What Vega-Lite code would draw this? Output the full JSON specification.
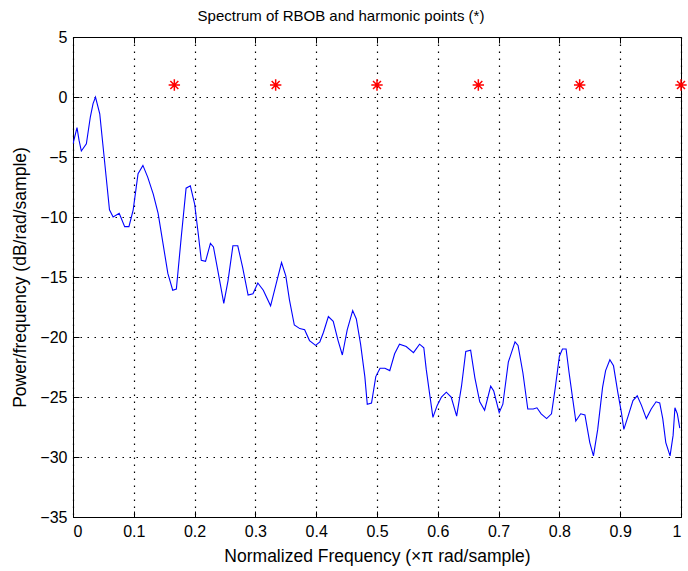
{
  "$schema": "https://vega.github.io/schema/vega-lite/v6.json",
  "width": 608,
  "height": 480,
  "autosize": "none",
  "padding": {"left": 73, "top": 37, "right": 7, "bottom": 54},
  "background": "white",
  "title": {"text": "Spectrum of RBOB and harmonic points (*)", "font": "Liberation Sans", "fontSize": 15, "fontWeight": "normal", "color": "black", "offset": 5, "dx": -36},
  "config": {
    "view": {"stroke": "black", "strokeWidth": 1},
    "axis": {
      "labelFont": "Liberation Sans", "labelFontSize": 16, "labelColor": "black",
      "titleFont": "Liberation Sans", "titleFontSize": 17.5, "titleFontWeight": "normal", "titleColor": "black",
      "domainColor": "black", "tickColor": "black", "tickSize": -6,
      "gridColor": "black", "gridOpacity": 1, "gridDash": [1.5, 5.5], "gridWidth": 1.2
    }
  },
  "datasets": {
    "spectrum": [
      {"f": 0.0, "p": -3.9}, {"f": 0.0066, "p": -2.55}, {"f": 0.0099, "p": -3.6}, {"f": 0.0137, "p": -4.5},
      {"f": 0.022, "p": -3.9}, {"f": 0.0285, "p": -1.67}, {"f": 0.033, "p": -0.55}, {"f": 0.037, "p": 0.0},
      {"f": 0.044, "p": -1.4}, {"f": 0.049, "p": -3.9}, {"f": 0.055, "p": -6.9}, {"f": 0.06, "p": -9.4},
      {"f": 0.066, "p": -10.0}, {"f": 0.076, "p": -9.7}, {"f": 0.085, "p": -10.8}, {"f": 0.092, "p": -10.8},
      {"f": 0.099, "p": -9.4}, {"f": 0.107, "p": -6.4}, {"f": 0.115, "p": -5.7}, {"f": 0.123, "p": -6.7},
      {"f": 0.132, "p": -8.1}, {"f": 0.14, "p": -9.7}, {"f": 0.148, "p": -12.2}, {"f": 0.156, "p": -14.7},
      {"f": 0.164, "p": -16.1}, {"f": 0.17, "p": -16.0}, {"f": 0.178, "p": -11.7}, {"f": 0.186, "p": -7.6},
      {"f": 0.193, "p": -7.4}, {"f": 0.2, "p": -8.9}, {"f": 0.206, "p": -11.4}, {"f": 0.211, "p": -13.6},
      {"f": 0.218, "p": -13.7}, {"f": 0.226, "p": -12.2}, {"f": 0.231, "p": -12.5}, {"f": 0.238, "p": -14.4},
      {"f": 0.248, "p": -17.2}, {"f": 0.255, "p": -15.3}, {"f": 0.263, "p": -12.4}, {"f": 0.271, "p": -12.4},
      {"f": 0.279, "p": -14.2}, {"f": 0.288, "p": -16.5}, {"f": 0.296, "p": -16.4}, {"f": 0.304, "p": -15.5},
      {"f": 0.313, "p": -16.1}, {"f": 0.325, "p": -17.4}, {"f": 0.334, "p": -15.6}, {"f": 0.343, "p": -13.8},
      {"f": 0.35, "p": -14.9}, {"f": 0.356, "p": -16.9}, {"f": 0.364, "p": -19.0}, {"f": 0.373, "p": -19.3},
      {"f": 0.381, "p": -19.4}, {"f": 0.389, "p": -20.3}, {"f": 0.399, "p": -20.7}, {"f": 0.406, "p": -20.4},
      {"f": 0.412, "p": -19.6}, {"f": 0.42, "p": -18.3}, {"f": 0.428, "p": -18.7}, {"f": 0.436, "p": -20.3},
      {"f": 0.443, "p": -21.5}, {"f": 0.451, "p": -19.4}, {"f": 0.46, "p": -17.8}, {"f": 0.466, "p": -18.5},
      {"f": 0.473, "p": -20.6}, {"f": 0.48, "p": -23.3}, {"f": 0.484, "p": -25.6}, {"f": 0.491, "p": -25.5},
      {"f": 0.498, "p": -23.3}, {"f": 0.505, "p": -22.6}, {"f": 0.513, "p": -22.6}, {"f": 0.521, "p": -22.8},
      {"f": 0.529, "p": -21.4}, {"f": 0.537, "p": -20.6}, {"f": 0.548, "p": -20.8}, {"f": 0.56, "p": -21.3},
      {"f": 0.57, "p": -20.6}, {"f": 0.577, "p": -20.9}, {"f": 0.581, "p": -22.7}, {"f": 0.587, "p": -24.9},
      {"f": 0.592, "p": -26.7}, {"f": 0.599, "p": -25.7}, {"f": 0.606, "p": -25.0}, {"f": 0.614, "p": -24.6},
      {"f": 0.622, "p": -25.0}, {"f": 0.631, "p": -26.6}, {"f": 0.639, "p": -24.1}, {"f": 0.646, "p": -21.2},
      {"f": 0.654, "p": -21.1}, {"f": 0.661, "p": -23.4}, {"f": 0.669, "p": -25.4}, {"f": 0.677, "p": -26.1},
      {"f": 0.687, "p": -24.1}, {"f": 0.692, "p": -24.5}, {"f": 0.701, "p": -26.3}, {"f": 0.707, "p": -25.6},
      {"f": 0.716, "p": -22.1}, {"f": 0.727, "p": -20.4}, {"f": 0.732, "p": -20.7}, {"f": 0.74, "p": -23.0},
      {"f": 0.748, "p": -26.0}, {"f": 0.757, "p": -26.0}, {"f": 0.763, "p": -25.9}, {"f": 0.77, "p": -26.4},
      {"f": 0.779, "p": -26.8}, {"f": 0.787, "p": -26.4}, {"f": 0.793, "p": -24.3}, {"f": 0.8, "p": -21.6},
      {"f": 0.805, "p": -21.0}, {"f": 0.811, "p": -21.0}, {"f": 0.816, "p": -23.0}, {"f": 0.822, "p": -25.2},
      {"f": 0.827, "p": -27.0}, {"f": 0.835, "p": -26.4}, {"f": 0.842, "p": -26.5}, {"f": 0.85, "p": -28.8},
      {"f": 0.856, "p": -29.9}, {"f": 0.863, "p": -27.7}, {"f": 0.871, "p": -24.2}, {"f": 0.876, "p": -22.8},
      {"f": 0.883, "p": -21.9}, {"f": 0.889, "p": -22.4}, {"f": 0.896, "p": -24.6}, {"f": 0.902, "p": -26.3},
      {"f": 0.906, "p": -27.7}, {"f": 0.913, "p": -26.6}, {"f": 0.921, "p": -25.3}, {"f": 0.928, "p": -24.9},
      {"f": 0.935, "p": -25.7}, {"f": 0.943, "p": -26.8}, {"f": 0.951, "p": -26.0}, {"f": 0.959, "p": -25.4},
      {"f": 0.965, "p": -25.5}, {"f": 0.97, "p": -26.8}, {"f": 0.975, "p": -28.8}, {"f": 0.982, "p": -29.9},
      {"f": 0.987, "p": -28.2}, {"f": 0.99, "p": -25.9}, {"f": 0.994, "p": -26.4}, {"f": 0.998, "p": -27.6}
    ],
    "harmonics": [
      {"f": 0.16667, "p": 1}, {"f": 0.33333, "p": 1}, {"f": 0.5, "p": 1},
      {"f": 0.66667, "p": 1}, {"f": 0.83333, "p": 1}, {"f": 1.0, "p": 1}
    ]
  },
  "layer": [
    {
      "data": {"name": "spectrum"},
      "mark": {"type": "line", "color": "#0000ff", "strokeWidth": 1.1, "clip": true},
      "encoding": {
        "x": {"field": "f", "type": "quantitative",
              "scale": {"domain": [0, 1], "nice": false, "zero": false},
              "axis": {"orient": "bottom", "values": [0, 0.1, 0.2, 0.3, 0.4, 0.5, 0.6, 0.7, 0.8, 0.9, 1], "format": "~g",
                       "title": "Normalized Frequency  (×π rad/sample)", "labelPadding": 12, "titlePadding": 8, "grid": true}},
        "y": {"field": "p", "type": "quantitative",
              "scale": {"domain": [-35, 5], "nice": false, "zero": false},
              "axis": {"orient": "left", "values": [-35, -30, -25, -20, -15, -10, -5, 0, 5],
                       "title": "Power/frequency (dB/rad/sample)", "labelPadding": 12, "titlePadding": 10, "grid": true}}
      }
    },
    {
      "data": {"name": "harmonics"},
      "mark": {"type": "point", "shape": "M0,-1L0,1M-1,0L1,0M-0.7,-0.7L0.7,0.7M-0.7,0.7L0.7,-0.7", "filled": false, "color": "#ff0000", "strokeWidth": 1.5, "size": 130, "opacity": 1, "clip": false},
      "encoding": {
        "x": {"field": "f", "type": "quantitative",
              "axis": {"orient": "top", "values": [0, 0.1, 0.2, 0.3, 0.4, 0.5, 0.6, 0.7, 0.8, 0.9, 1], "labels": false, "title": null, "grid": false, "domain": false}},
        "y": {"field": "p", "type": "quantitative",
              "axis": {"orient": "right", "values": [-35, -30, -25, -20, -15, -10, -5, 0, 5], "labels": false, "title": null, "grid": false, "domain": false}}
      }
    }
  ],
  "resolve": {"axis": {"x": "independent", "y": "independent"}}
}
